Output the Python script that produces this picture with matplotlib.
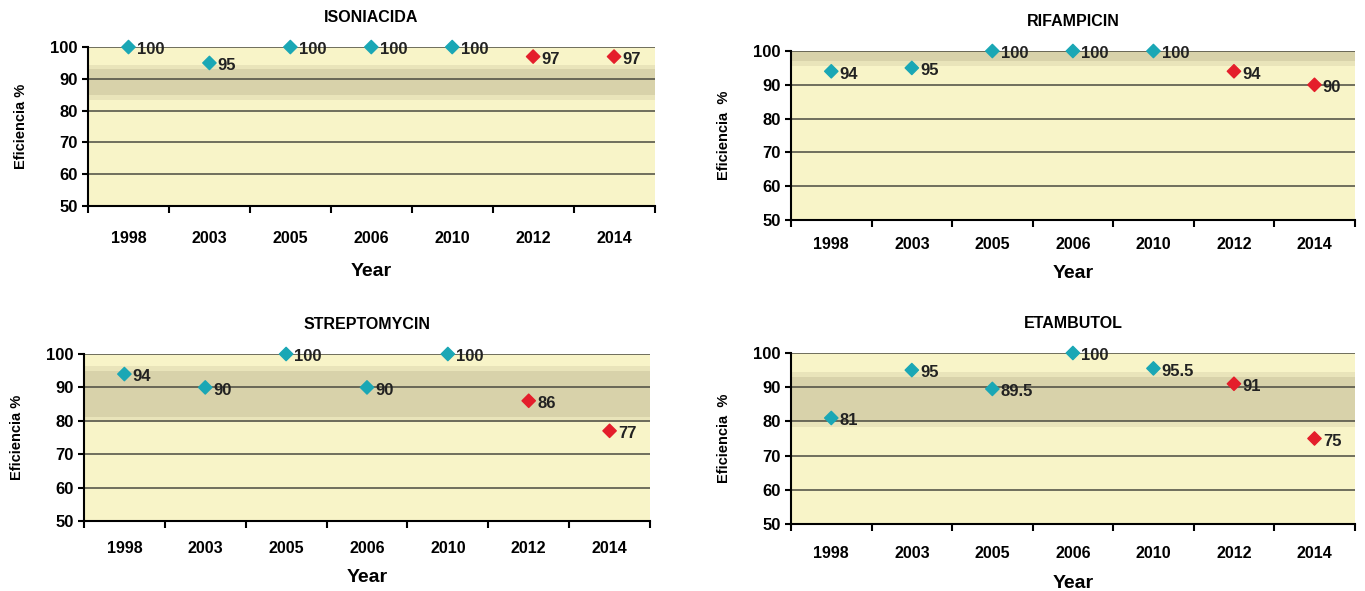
import matplotlib.pyplot as plt
import numpy as np

plt.rcParams['font.family'] = ['Liberation Sans Narrow', 'Liberation Sans', 'DejaVu Sans']

years = ['1998', '2003', '2005', '2006', '2010', '2012', '2014']
isoniacida = [100, 95, 100, 100, 100, 97, 97]
rifampicin = [94, 95, 100, 100, 100, 94, 90]
streptomycin = [94, 90, 100, 90, 100, 86, 77]
etambutol = [81, 95, 89.5, 100, 95.5, 91, 75]
labels_etam = ['81', '95', '89.5', '100', '95.5', '91', '75']

# last two years are drawn in red
red_from = 5

# title, values, labels, grey band, axes rect, ylabel, tick pad, xlabel pad
panels = [
    ('ISONIACIDA', isoniacida, None, (85, 93), [0.0645, 0.6514, 0.415, 0.269], 'Eficiencia %', 18, 12),
    ('RIFAMPICIN', rifampicin, None, (97, 100), [0.5795, 0.6277, 0.413, 0.286], 'Eficiencia  %', 12.5, 9),
    ('STREPTOMYCIN', streptomycin, None, (81, 95), [0.0615, 0.1184, 0.4147, 0.2826], 'Eficiencia %', 14.5, 9),
    ('ETAMBUTOL', etambutol, labels_etam, (80, 93), [0.5795, 0.1134, 0.413, 0.2893], 'Eficiencia  %', 16, 10),
]

CYAN = '#1aa7b5'
RED = '#e41e2b'
BG = '#f8f4c8'
BAND = '#d8d2aa'

fig = plt.figure(figsize=(13.65, 5.91), dpi=100)

for title, vals, labs, band, rect, ylab, tpad, xpad in panels:
    ax = fig.add_axes(rect)
    ax.set_facecolor(BG)
    x = np.arange(len(years))
    # soft grey band with faded edges
    lo, hi = band
    ax.axhspan(lo, hi, color=BAND, lw=0, zorder=0)
    ax.axhspan(lo - 1.5, lo, color=BAND, alpha=0.45, lw=0, zorder=0)
    ax.axhspan(hi, min(hi + 1.5, 100), color=BAND, alpha=0.45, lw=0, zorder=0)
    for yv in range(60, 101, 10):
        ax.axhline(yv, color='#4a4a40', lw=1.1, zorder=1)
    cols = [CYAN if i < red_from else RED for i in range(len(vals))]
    ax.scatter(x, vals, marker='D', s=46, c=cols, zorder=3, clip_on=False)
    if labs is None:
        labs = [f'{v:g}' for v in vals]
    for xi, v, t in zip(x, vals, labs):
        ax.annotate(t, (xi, v), xytext=(6, -2), textcoords='offset points',
                    ha='left', va='center', fontsize=12, fontweight='bold',
                    color='#222222', zorder=4, annotation_clip=False)
    ax.set_xlim(-0.5, len(years) - 0.5)
    ax.set_ylim(50, 100)
    ax.set_yticks(range(50, 101, 10))
    ax.set_xticks(x)
    ax.set_xticklabels(years, fontsize=11.5, fontweight='bold')
    ax.set_xticks(np.arange(-0.5, len(years)), minor=True)
    ax.tick_params(axis='x', which='major', length=0, pad=tpad)
    ax.tick_params(axis='x', which='minor', length=5, width=1.5, direction='out')
    ax.tick_params(axis='y', length=4, width=1.5, labelsize=12)
    for lab in ax.get_yticklabels():
        lab.set_fontweight('bold')
    for s in ['top', 'right']:
        ax.spines[s].set_visible(False)
    ax.spines['left'].set_linewidth(1.5)
    ax.spines['bottom'].set_linewidth(1.5)
    ax.set_title(title, fontsize=11.5, fontweight='bold', pad=18)
    ax.set_xlabel('Year', fontsize=14, fontweight='bold', labelpad=xpad)
    ax.set_ylabel(ylab, fontsize=10.5, fontweight='bold', labelpad=16)

fig.savefig('out.png', dpi=100)
